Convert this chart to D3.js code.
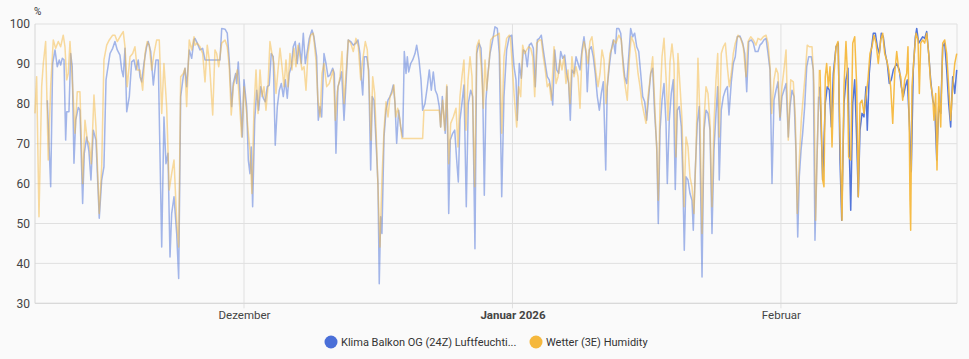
<!DOCTYPE html>
<html>
<head>
<meta charset="utf-8">
<script src="https://cdn.jsdelivr.net/npm/d3@7"></script>
<style>
  html, body { margin: 0; padding: 0; background: #fafafa; }
  svg { display: block; font-family: Roboto, "Noto Sans", sans-serif; }
</style>
</head>
<body>
<svg id="chart" width="969" height="359"></svg>
<script>
// ---- DATA (day offsets relative to 2025-12-01, humidity in %) ----
const baseDate = new Date(2025, 11, 1);
const domainDays = [-24.13, 82.33];
const recentFromDay = 66.5;

const klima = [
[-22.71,80.9],[-22.32,59.2],[-22.09,90.1],[-21.82,93.5],[-21.56,89.3],[-21.33,91],[-21.17,89.7],[-20.98,91.4],[-20.78,91],[-20.59,70.9],[-20.47,78],[-20.21,78],[-20.01,92.6],[-19.83,89.3],[-19.63,65.1],[-19.43,75.9],[-19.13,79.1],[-18.94,78.4],[-18.63,55],[-18.44,67.6],[-18.16,71.7],[-17.90,68],[-17.67,60.9],[-17.40,73.4],[-17.09,70.9],[-16.71,51.3],[-16.43,60.9],[-16.17,64.2],[-15.93,86],[-15.47,92.6],[-15.16,93.9],[-14.90,95.6],[-14.63,93.5],[-14.32,92.2],[-14.12,88.5],[-13.94,86.8],[-13.74,93.9],[-13.54,78],[-13.24,81.8],[-12.97,90.5],[-12.70,91],[-12.47,88.5],[-12.21,91],[-12.01,86.8],[-11.81,85.5],[-11.55,90.1],[-11.24,94.3],[-11.05,95.6],[-10.77,93.1],[-10.47,84.7],[-10.16,91],[-9.90,91],[-9.50,44.1],[-9.24,76.7],[-9.01,65],[-8.78,67.6],[-8.54,41.6],[-8.35,52.5],[-8.08,56.7],[-7.77,47.5],[-7.54,36.2],[-7.31,81.8],[-7.01,86.8],[-6.81,88.9],[-6.62,84.3],[-6.32,93.5],[-6.04,91.4],[-5.77,96],
[-5.66,96.4],[-5.39,95.2],[-5.08,93.5],[-4.77,93.9],[-4.50,91],[-2.77,91],[-2.57,98.9],[-2.19,98.7],[-1.93,97.7],[-1.70,91],[-1.42,79.3],[-1.24,85.1],[-0.96,87.6],[-0.84,85.1],[-0.66,90.5],[-0.38,79.3],[-0.20,71.7],[0.00,86],[0.31,79.3],[0.50,65.9],[0.69,62.5],[0.84,69.2],[1.00,54.2],[1.24,75.9],[1.47,83.4],[1.70,78.4],[1.93,84.3],[2.23,81.4],[2.46,80.5],[2.69,84.3],[2.92,84.7],[3.15,92.6],[3.38,91.8],[3.61,69.6],[3.85,79.3],[4.08,83.4],[4.31,85.1],[4.54,81.8],[4.77,86],[5.00,81.4],[5.23,87.6],[5.46,89.3],[5.69,94.3],[5.92,95.6],[6.15,90.1],[6.39,95.2],[6.62,90.1],[6.85,97.7],[7.08,90.1],[7.31,93.1],[7.54,96.4],[7.85,98.5],[8.08,96.8],[8.39,91.8],[8.58,75.9],[8.78,79.3],[8.97,76.7],[9.24,92.6],[9.47,90.1],[9.70,86.8],[9.93,87.2],[10.24,88.9],[10.43,87.6],[10.62,67.6],[10.85,84.3],[11.09,86],[11.28,88],[11.55,75.9],[11.78,85.1],[12.04,96],[12.32,95.6],[12.62,94.7],
[12.93,95.2],[13.16,96],[13.39,92.6],[13.54,86.8],[13.71,82.2],[13.89,91.8],[14.17,91.8],[14.40,88.5],[14.63,63.4],[14.81,81.8],[15.01,80.9],[15.24,70.9],[15.47,60],[15.62,34.9],[15.78,51.7],[15.93,47.5],[16.17,71.7],[16.40,78.4],[16.63,80.9],[16.86,81.8],[17.05,83],[17.24,84.7],[17.44,80.1],[17.63,70.1],[17.86,78.4],[18.09,74.2],[18.33,71.7],[18.51,93.1],[18.71,87.6],[18.86,91.8],[19.02,88],[19.25,90.1],[19.48,91],[19.75,92.6],[19.94,94.7],[20.21,91],[20.44,86],[20.63,78.4],[20.90,80.1],[21.17,84.3],[21.40,88.5],[21.63,83.4],[21.86,88],[22.09,83.4],[22.32,82.2],[22.55,79.3],[22.71,74.2],[22.90,81.8],[23.09,76.7],[23.24,72.6],[23.44,84.3],[23.64,52.5],[23.82,70.9],[24.10,72.6],[24.33,73.4],[24.56,65.9],[24.75,60.4],[24.94,75.9],[25.21,80.9],[25.40,84.7],[25.67,54.2],[25.90,80.1],[26.18,83.4],[26.41,81.8],[26.67,43.7],[26.87,92.6],[27.14,95.2],[27.37,93.9],[27.56,84.3],[27.75,57.1],[27.94,80.9],[28.14,86.8],[28.41,92.6],[28.72,96],[28.98,99.3],[29.25,98.9],[29.48,92.6],[29.76,56.7],[30.02,81.8],[30.33,93.5],[30.63,96.8],[30.91,97.2],
[31.18,89.3],[31.41,86],[31.56,75.9],[31.79,90.1],[32.02,86.4],[32.25,93.5],[32.48,93.1],[32.71,89.3],[32.94,94.7],[33.18,95.2],[33.41,93.9],[33.64,84.3],[33.87,96],[34.10,96.4],[34.33,97.2],[34.56,93.5],[34.79,90.1],[35.02,86.8],[35.25,86],[35.48,83],[35.65,79.7],[35.88,93.5],[36.11,88.5],[36.34,87.6],[36.57,93.1],[36.80,91.4],[37.03,92.2],[37.26,87.6],[37.49,85.1],[37.68,75.9],[37.87,88.5],[38.11,87.6],[38.34,91.8],[38.57,90.1],[38.80,88.5],[39.03,93.5],[39.26,96.8],[39.49,92.6],[39.64,83],[39.87,93.5],[40.10,94.3],[40.33,91.8],[40.56,87.6],[40.80,81.8],[41.03,78.4],[41.26,82.6],[41.49,85.5],[41.77,63.4],[41.95,84.3],[42.18,89.3],[42.41,93.5],[42.64,96],[42.87,92.6],[43.04,98.9],[43.27,98.9],[43.50,97.7],[43.73,91.8],[43.96,86.8],[44.19,85.1],[44.42,91.8],[44.65,98.9],[44.88,96.8],[45.11,97.7],[45.35,94.3],[45.58,93.1],[45.81,87.6],[46.04,81.8],[46.27,80.5],[46.50,75.9],[46.73,81.8],[46.96,87.6],[47.19,88.9],[47.42,77.6],[47.66,69.2],[47.84,50],[48.04,73.4],[48.27,80.9],[48.50,85.1],[48.73,75.1],[48.88,60],[49.11,75.9],[49.34,82.6],[49.57,86],[49.80,58.5],
[50.03,78.4],[50.26,79.3],[50.50,74.2],[50.66,62.5],[50.84,43.3],[51.04,61.7],[51.27,60.9],[51.50,57.5],[51.73,55.8],[51.88,48.3],[52.11,63.4],[52.34,75.1],[52.57,79.3],[52.89,36.6],[53.12,73.4],[53.35,78.4],[53.58,77.6],[53.81,73.4],[54.04,47.5],[54.27,68.4],[54.50,77.6],[54.70,84.3],[54.88,60.9],[55.11,78.4],[55.35,81.8],[55.58,83.4],[55.81,84.3],[56.00,77.2],[56.27,85.5],[56.50,90.1],[56.73,91.8],[56.96,96.8],[57.27,97],[57.59,95.2],[57.82,92.6],[58.05,83],[58.28,95.6],[58.58,96],[58.81,95.2],[59.04,93.1],[59.35,93.1],[59.58,94.7],[59.81,95.2],[60.04,96],[60.28,96.4],[60.51,92.6],[60.74,88.5],[60.97,60],[61.20,80.9],[61.43,83.4],[61.66,85.5],[61.89,75.9],[62.12,81.8],[62.35,83.4],[62.59,85.1],[62.85,71.7],[63.05,79.3],[63.28,83.4],[63.51,81.8],[63.74,67.6],[63.94,46.6],[64.12,61.7],[64.32,68.4],[64.51,72.6],[64.74,79.3],[64.98,89.3],[65.21,91.8],[65.51,91.8],[65.74,88.5],[65.93,45.8],[66.13,63.4],[66.36,81.8],[66.51,84.3],
[66.82,60.9],[67.12,80.1],[67.35,84.3],[67.59,83.4],[67.82,74.2],[68.05,87.6],[68.36,94.3],[68.62,95.2],[68.82,65.9],[69.02,50.8],[69.28,80.1],[69.51,86],[69.74,88.9],[69.90,67.6],[70.06,53.3],[70.29,80.1],[70.52,86],[70.75,70.9],[70.93,56.7],[71.13,73.4],[71.36,77.6],[71.59,76.7],[71.82,84.3],[71.97,73.4],[72.20,87.6],[72.43,93.5],[72.67,97.7],[72.90,97.7],[73.13,94.3],[73.36,92.6],[73.59,97.7],[73.82,96.8],[74.05,92.6],[74.28,90.1],[74.51,85.1],[74.74,86],[74.98,88.5],[75.37,90.1],[75.67,88.5],[75.90,84.3],[76.13,81.8],[76.36,84.3],[76.59,86],[76.82,75.9],[77.05,63],[77.28,88.5],[77.52,96.8],[77.68,98.9],[77.91,95.2],[78.14,96],[78.37,96.8],[78.60,96.4],[78.83,98.1],[79.06,92.6],[79.29,86],[79.53,80.9],[79.76,79.3],[79.99,65.9],[80.22,79.3],[80.45,77.6],[80.68,94.3],[80.91,95.2],[81.14,88.5],[81.37,80.1],[81.60,74.2],[81.83,86.8],[82.07,82.6],[82.30,88.5]
];

const wetter = [
[-24.13,77.6],[-23.94,86.8],[-23.67,51.7],[-23.36,84.3],[-23.17,90.1],[-22.90,95.6],[-22.60,65.9],[-22.32,84.3],[-22.02,96],[-21.74,93.9],[-21.44,95.6],[-21.17,94.3],[-20.87,97.2],[-20.67,94.3],[-20.47,86],[-20.29,87.6],[-20.09,95.6],[-19.78,84.3],[-19.51,72.6],[-19.25,83],[-18.94,83],[-18.63,60],[-18.36,75.9],[-18.09,70.9],[-17.86,70.1],[-17.63,65],[-17.32,82.2],[-17.09,74.2],[-16.71,52.5],[-16.43,64.2],[-16.17,91],[-15.85,94.7],[-15.55,96],[-15.16,97.2],[-14.90,97.2],[-14.63,95.6],[-14.32,96.8],[-13.94,98.1],[-13.74,94.3],[-13.48,84.3],[-13.16,91.8],[-12.85,92.6],[-12.59,94.3],[-12.32,88.5],[-12.01,88.5],[-11.70,83.4],[-11.43,92.6],[-11.17,95.6],[-10.94,94.7],[-10.66,88.5],[-10.39,92.6],[-10.08,96],[-9.78,96],[-9.50,77.6],[-9.24,90.1],[-8.93,79.3],[-8.63,58.4],[-8.35,62.5],[-8.08,65.9],[-7.77,50.8],[-7.54,44.1],[-7.31,86.8],[-7.01,87.6],[-6.81,88.9],[-6.62,79.3],[-6.32,96],[-6.04,93.5],[-5.77,96.8],
[-5.66,94.7],[-5.39,95.2],[-5.08,94.3],[-4.77,92.6],[-4.50,85.5],[-4.24,94.7],[-4.01,91],[-3.61,77.2],[-3.35,93.5],[-3.15,92.6],[-2.92,89.3],[-2.57,95.2],[-2.19,96],[-1.93,94.3],[-1.70,89.3],[-1.47,77.2],[-1.24,84.3],[-0.96,86.8],[-0.77,88.5],[-0.54,80.9],[-0.27,71.7],[0.00,84.3],[0.31,77.6],[0.54,71.7],[0.69,68.4],[0.92,57.5],[1.15,78.4],[1.39,88.5],[1.62,77.6],[1.85,88.5],[2.08,81.8],[2.31,84.3],[2.54,78.4],[2.77,84.3],[3.00,95.6],[3.23,92.6],[3.46,90.1],[3.70,82.6],[3.93,88.5],[4.16,93.9],[4.39,89.3],[4.62,84.3],[4.85,91],[5.08,84.3],[5.31,92.6],[5.54,88.5],[5.77,93.9],[6.00,89.3],[6.24,94.7],[6.47,91.8],[6.70,88.5],[6.93,89.3],[7.16,83.4],[7.39,92.6],[7.70,97.2],[8.00,97.7],[8.31,91],[8.54,80.9],[8.78,76.7],[9.01,87.6],[9.24,90.1],[9.55,84.3],[9.85,85.1],[10.08,86.8],[10.31,88.5],[10.54,75.9],[10.77,83],[11.09,86.8],[11.32,93.1],[11.55,80.1],[11.78,87.6],[12.04,96],[12.32,95.2],[12.62,93.1],
[12.93,96.4],[13.20,94.3],[13.48,86],[13.71,91],[14.01,95.6],[14.24,93.5],[14.47,83.4],[14.66,70.9],[14.86,86.8],[15.09,82.6],[15.32,69.2],[15.55,54.2],[15.70,44.1],[15.93,60.9],[16.17,73.4],[16.40,80.5],[16.63,76.7],[16.86,81.8],[17.09,82.6],[17.32,84.7],[17.52,76.7],[17.75,78.9],[18.01,75.9],[18.24,71.3],[20.63,71.3],[20.78,78.4],[22.55,78.4],[22.71,74.2],[22.94,80.9],[23.17,73.4],[23.41,84.7],[23.64,65],[23.87,75.1],[24.17,76.7],[24.48,78.9],[24.71,69.2],[24.94,81.8],[25.17,86.8],[25.40,91],[25.63,73.4],[25.87,86],[26.10,91.8],[26.33,86.8],[26.64,59.2],[26.87,94.3],[27.14,96],[27.40,89.3],[27.63,78.9],[27.83,91],[28.02,83.4],[28.26,89.3],[28.49,96],[28.79,96.8],[29.18,97.2],[29.48,97.7],[29.76,72.6],[30.02,91.8],[30.33,96.4],[30.63,97.2],[30.77,96.5],[31.00,89],
[31.18,82.6],[31.49,74.2],[31.72,84.3],[31.95,81.8],[32.18,94.7],[32.41,92.6],[32.64,93.5],[32.87,94.3],[33.11,93.9],[33.34,91.8],[33.57,81.8],[33.80,95.2],[34.10,96],[34.33,96],[34.56,91.8],[34.79,88.5],[35.02,84.3],[35.25,85.1],[35.48,80.9],[35.80,94.3],[36.03,85.1],[36.26,86.8],[36.49,91],[36.72,88.5],[36.95,91.8],[37.18,85.1],[37.41,88.5],[37.64,80.1],[37.87,91.8],[38.11,86.8],[38.34,89.3],[38.57,86.8],[38.80,78.9],[39.03,92.6],[39.26,95.6],[39.49,93.5],[39.72,90.1],[39.95,95.6],[40.18,96.8],[40.41,92.6],[40.65,87.6],[40.88,84.3],[41.11,87.6],[41.34,93.5],[41.57,91],[41.80,80.1],[42.03,86.8],[42.26,92.6],[42.49,93.9],[42.72,96],[42.95,95.2],[43.27,97.2],[43.57,96],[43.80,88.5],[44.03,84.3],[44.26,80.9],[44.49,91],[44.72,96.8],[45.03,95.2],[45.26,92.6],[45.50,87.6],[45.73,84.3],[45.96,80.1],[46.19,77.6],[46.42,75.1],[46.65,81.8],[46.88,86],[47.19,91.8],[47.42,80.1],[47.66,68.4],[47.84,55.8],[48.04,80.1],[48.27,91.8],[48.50,96.4],[48.73,86.8],[48.96,75.9],[49.19,90.5],[49.42,95],[49.65,90.1],[49.88,66.7],
[50.11,92.6],[50.35,84.3],[50.58,75.9],[50.81,54.2],[51.04,71.7],[51.27,69.2],[51.50,61.7],[51.73,59.2],[51.96,52.5],[52.19,67.6],[52.42,91.4],[52.66,75.9],[52.89,47.5],[53.12,75.9],[53.35,84.3],[53.58,82.6],[53.81,75.1],[54.04,54.2],[54.27,75.1],[54.50,86],[54.70,92.6],[54.88,71.7],[55.11,92.6],[55.35,94.3],[55.58,95.2],[55.81,89.3],[56.04,84.3],[56.27,87.6],[56.50,92.6],[56.73,95.2],[57.04,97.2],[57.35,96.4],[57.65,94.3],[57.97,86.8],[58.20,95.6],[58.51,96.8],[58.81,96],[59.12,94.7],[59.35,96.4],[59.66,96],[59.97,96.8],[60.28,97.2],[60.51,95.2],[60.74,89.3],[60.93,77.6],[61.20,86],[61.43,88.9],[61.66,87.6],[61.89,76.7],[62.12,84.3],[62.35,88.5],[62.59,93.5],[62.85,70.9],[63.13,86],[63.43,85.5],[63.66,76.7],[63.89,52.5],[64.12,65.9],[64.35,75.9],[64.58,81.8],[64.81,87.6],[65.04,94.7],[65.27,94.3],[65.59,94.3],[65.82,84.3],[66.01,50.8],[66.20,69.2],[66.43,88.5],[66.51,88.5],
[66.82,60.9],[66.97,59.2],[67.12,86.8],[67.28,90.1],[67.47,84.3],[67.67,89.3],[67.90,69.2],[68.13,87.6],[68.36,94.3],[68.59,95.6],[68.74,80.1],[68.90,65],[69.05,50.8],[69.28,84.3],[69.51,95.6],[69.66,88.5],[69.82,66.7],[70.06,65.9],[70.29,95.2],[70.52,96.8],[70.75,84.3],[70.93,56.7],[71.13,80.1],[71.36,80.9],[71.59,77.6],[71.82,81.8],[72.05,86],[72.28,92.6],[72.52,94.3],[72.75,97.2],[72.98,95.2],[73.24,90.1],[73.52,96],[73.75,97.7],[73.98,92.6],[74.21,91],[74.44,88.5],[74.67,84.3],[74.91,75.1],[75.14,87.6],[75.37,93.1],[75.60,88.5],[75.83,86.8],[76.06,80.9],[76.29,86],[76.52,87.6],[76.67,94.3],[76.82,73.4],[76.90,55.8],[76.98,48.3],[77.13,84.3],[77.37,91.8],[77.60,97.7],[77.83,96],[77.98,82.6],[78.14,95.2],[78.37,96],[78.60,95.2],[78.83,97.7],[79.06,92.6],[79.29,85.1],[79.53,81.8],[79.67,75.9],[79.87,82.6],[80.02,63.4],[80.22,84.3],[80.45,74.2],[80.68,95.2],[80.91,96],[81.14,92.6],[81.37,84.3],[81.60,75.9],[81.83,84.3],[82.07,90.1],[82.30,92.6]
];

const yTicks = [30, 40, 50, 60, 70, 80, 90, 100];
const monthTicks = [new Date(2025, 11, 1), new Date(2026, 0, 1), new Date(2026, 1, 1)];
const monthLabels = ["Dezember", "Januar 2026", "Februar"];
const seriesNames = ["Klima Balkon OG (24Z) Luftfeuchti...", "Wetter (3E) Humidity"];
const seriesColors = ["#4a6fd8", "#f5b83d"];

// ---- DRAWING ----
const svg = d3.select("#chart");
const M = { left: 35, right: 957, top: 24, bottom: 303.3 };
const toDate = d => new Date(baseDate.getTime() + d * 864e5);

const x = d3.scaleTime().domain(domainDays.map(toDate)).range([M.left, M.right]);
const y = d3.scaleLinear().domain([30, 100]).range([M.bottom, M.top]);

// horizontal grid
svg.append("g").selectAll("line").data(yTicks).join("line")
  .attr("x1", M.left).attr("x2", M.right)
  .attr("y1", d => y(d)).attr("y2", d => y(d))
  .attr("stroke", "#e0e0e0").attr("stroke-width", 1);

// vertical grid at months
svg.append("g").selectAll("line").data(monthTicks).join("line")
  .attr("x1", d => x(d)).attr("x2", d => x(d))
  .attr("y1", M.top).attr("y2", M.bottom + 5)
  .attr("stroke", "#e0e0e0").attr("stroke-width", 1);

// frame
svg.append("line").attr("x1", M.left).attr("x2", M.left).attr("y1", M.top).attr("y2", M.bottom)
  .attr("stroke", "#d6d6d6");
svg.append("line").attr("x1", M.right).attr("x2", M.right).attr("y1", M.top).attr("y2", M.bottom)
  .attr("stroke", "#e0e0e0");
svg.append("line").attr("x1", M.left).attr("x2", M.right).attr("y1", M.bottom).attr("y2", M.bottom)
  .attr("stroke", "#d6d6d6");

// y axis
const yAxis = d3.axisLeft(y).tickValues(yTicks).tickSize(0).tickPadding(5);
const gy = svg.append("g").attr("transform", `translate(${M.left},0)`).call(yAxis);
gy.select(".domain").remove();
gy.selectAll("text").attr("fill", "#444").style("font-size", "12px").style("font-family", "Roboto, sans-serif");

svg.append("text").attr("x", 34).attr("y", 15).text("%")
  .attr("fill", "#333").style("font-size", "10px");

// x axis
const xAxis = d3.axisBottom(x).tickValues(monthTicks).tickSize(0).tickPadding(8)
  .tickFormat((d, i) => monthLabels[i]);
const gx = svg.append("g").attr("transform", `translate(0,${M.bottom})`).call(xAxis);
gx.select(".domain").remove();
gx.selectAll("text").attr("fill", "#444").style("font-size", "11.5px")
  .style("font-family", "Roboto, sans-serif")
  .style("font-weight", (d, i) => i === 1 ? "bold" : "normal");

// lines
const line = d3.line().x(d => x(toDate(d[0]))).y(d => y(d[1]));
[klima, wetter].forEach((data, i) => {
  const older = data.filter(d => d[0] <= recentFromDay);
  const recent = data.filter(d => d[0] >= recentFromDay);
  svg.append("path").datum(older).attr("d", line)
    .attr("fill", "none").attr("stroke", seriesColors[i])
    .attr("stroke-opacity", 0.5).attr("stroke-width", 1.5)
    .attr("stroke-linejoin", "round");
  svg.append("path").datum(recent).attr("d", line)
    .attr("fill", "none").attr("stroke", seriesColors[i])
    .attr("stroke-opacity", 0.95).attr("stroke-width", 1.5)
    .attr("stroke-linejoin", "round");
});

// legend
const legendPos = [331, 536];
const lg = svg.append("g");
seriesNames.forEach((name, i) => {
  lg.append("circle").attr("cx", legendPos[i]).attr("cy", 342).attr("r", 6.5).attr("fill", seriesColors[i]);
  lg.append("text").attr("x", legendPos[i] + 10).attr("y", 346).text(name)
    .attr("fill", "#333").style("font-size", "11px");
});
</script>
</body>
</html>
